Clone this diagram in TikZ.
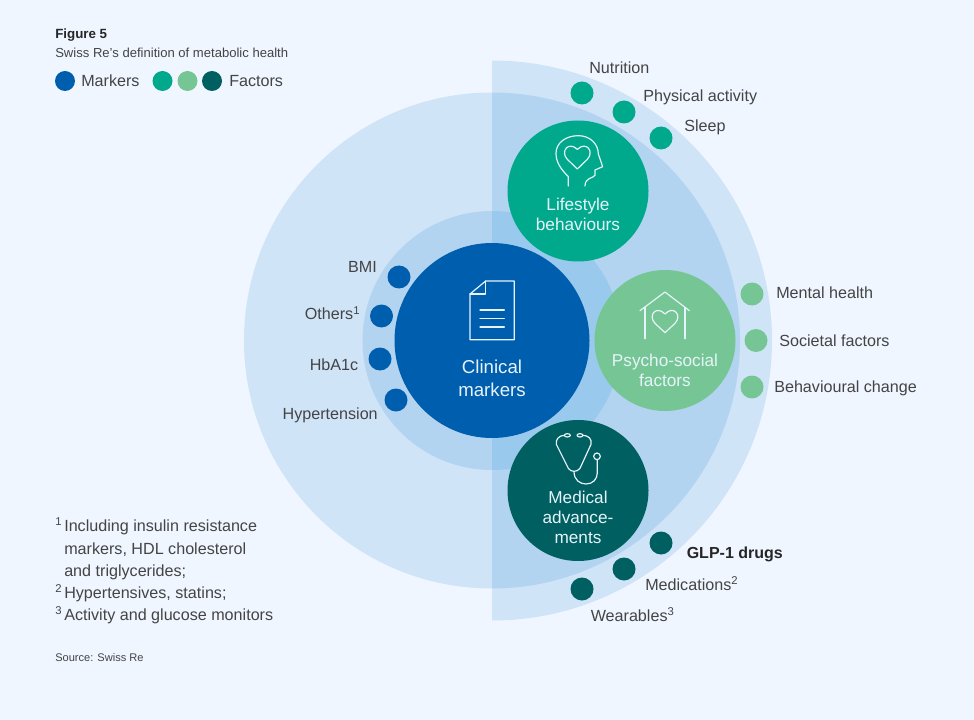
\documentclass[tikz,border=0pt]{standalone}
\usepackage{fontspec}
\setmainfont{Liberation Sans}
\definecolor{pagebg}{HTML}{EFF6FF}
\definecolor{ringA}{HTML}{D0E4F8}
\definecolor{ringB}{HTML}{B3D4F0}
\definecolor{ringC}{HTML}{99C9EC}
\definecolor{markerblue}{HTML}{005EAE}
\definecolor{lifegreen}{HTML}{00A98B}
\definecolor{psychogreen}{HTML}{76C695}
\definecolor{meddark}{HTML}{005F60}
\definecolor{txtgrey}{HTML}{444444}
\definecolor{lightwhite}{HTML}{E6F3FA}
\tikzset{
  bigcirc/.style={circle, inner sep=0pt, minimum size=105.75pt},
  intext/.style={inner sep=0pt, text=lightwhite, align=center, font=\fontsize{12.9}{15}\selectfont},
  dotnode/.style={circle, inner sep=0pt, minimum size=17.25pt},
  keynode/.style={circle, inner sep=0pt, minimum size=15pt},
  lbl/.style={inner sep=0pt, text=txtgrey, font=\fontsize{12.1}{15}\selectfont},
  fnote/.style={inner sep=0pt, anchor=base west, text=txtgrey, font=\fontsize{12.1}{15}\selectfont},
  small/.style={inner sep=0pt, anchor=base west, text=txtgrey, font=\fontsize{8.3}{11}\selectfont},
  icon/.style={draw=lightwhite, line width=.9pt, line join=round, line cap=round}
}
\newcommand{\fnmark}[1]{\makebox[6.75pt][l]{\textsuperscript{#1}}}
\begin{document}
\begin{tikzpicture}[x=.75pt, y=-.75pt]
    \useasboundingbox (0,0) rectangle (974,720);
    \fill[pagebg] (0,0) rectangle (974,720);
    % rings
    \begin{scope}
      \clip (492,0) rectangle (974,720);
      \fill[ringA] (492,340.5) circle (280);
    \end{scope}
    \fill[ringA] (492,340.5) circle (248);
    \begin{scope}
      \clip (492,0) rectangle (974,720);
      \fill[ringB] (492,340.5) circle (248);
    \end{scope}
    \fill[ringB] (492,340.5) circle (129.5);
    \begin{scope}
      \clip (492,0) rectangle (974,720);
      \fill[ringC] (492,340.5) circle (129.5);
    \end{scope}
    % place nodes
    \node [bigcirc, minimum size=146.25pt, fill=markerblue] (clinical) at (492,340.5) {};
    \node [bigcirc, fill=lifegreen] (lifestyle) at (578,191) {};
    \node [bigcirc, fill=psychogreen] (psycho) at (665,340.5) {};
    \node [bigcirc, fill=meddark] (medical) at (578,490.5) {};
    \node [intext, font=\fontsize{14}{17.25}\selectfont] (clinicalText) at (492,378) {Clinical\\markers};
    \node [intext] (lifestyleText) at (578,214.5) {Lifestyle\\behaviours};
    \node [intext] (psychoText) at (665,370.5) {Psycho-social\\factors};
    \node [intext] (medicalText) at (578,517) {Medical\\advance-\\ments};
    % dots
    \node [dotnode, fill=lifegreen] (nutritionDot) at (582,93) {};
    \node [dotnode, fill=lifegreen] (activityDot) at (624,112) {};
    \node [dotnode, fill=lifegreen] (sleepDot) at (661,138) {};
    \node [dotnode, fill=psychogreen] (mentalDot) at (752,294) {};
    \node [dotnode, fill=psychogreen] (societalDot) at (756,340.5) {};
    \node [dotnode, fill=psychogreen] (changeDot) at (752,387) {};
    \node [dotnode, fill=meddark] (glpDot) at (661,543) {};
    \node [dotnode, fill=meddark] (medsDot) at (624,569) {};
    \node [dotnode, fill=meddark] (wearDot) at (582,589) {};
    \node [dotnode, fill=markerblue] (bmiDot) at (399,277) {};
    \node [dotnode, fill=markerblue] (othersDot) at (381.5,316) {};
    \node [dotnode, fill=markerblue] (hbaDot) at (380,359) {};
    \node [dotnode, fill=markerblue] (hyperDot) at (396,400) {};
    % labels
    \node [lbl, anchor=west] (nutrition) at (589,68) {Nutrition};
    \node [lbl, anchor=west] (activity) at (643,97) {Physical activity};
    \node [lbl, anchor=west] (sleep) at (684,127.5) {Sleep};
    \node [lbl, anchor=west] (mental) at (776,293) {Mental health};
    \node [lbl, anchor=west] (societal) at (779,340.5) {Societal factors};
    \node [lbl, anchor=west] (change) at (774,388) {Behavioural change};
    \node [lbl, anchor=west, font=\fontsize{12}{15}\bfseries, text=black!85] (glp) at (686.5,554.5) {GLP-1 drugs};
    \node [lbl, anchor=base west] (meds) at (645,590) {Medications\textsuperscript{2}};
    \node [lbl, anchor=base west] (wear) at (590.5,621) {Wearables\textsuperscript{3}};
    \node [lbl, anchor=east] (bmi) at (377,267) {BMI};
    \node [lbl, anchor=base east] (others) at (360.5,320) {Others\textsuperscript{1}};
    \node [lbl, anchor=east] (hba) at (358.5,364.5) {HbA1c};
    \node [lbl, anchor=east] (hyper) at (378,415.5) {Hypertension};
    % legend and notes
    \node [inner sep=0pt, anchor=base west, text=black!85, font=\fontsize{10}{12}\bfseries] (figno) at (55,39) {Figure 5};
    \node [small, font=\fontsize{9.8}{11}\selectfont] (figtitle) at (55,58) {Swiss Re’s definition of metabolic health};
    \node [keynode, fill=markerblue] (keyBlue) at (65,81) {};
    \node [lbl, anchor=west] (keyMarkers) at (81,81) {Markers};
    \node [keynode, fill=lifegreen] (keyLife) at (162.5,81) {};
    \node [keynode, fill=psychogreen] (keyPsycho) at (187.5,81) {};
    \node [keynode, fill=meddark] (keyMed) at (212,81) {};
    \node [lbl, anchor=west] (keyFactors) at (229,81) {Factors};
    \node [fnote] (noteA) at (55,531) {\fnmark{1}Including insulin resistance};
    \node [fnote] (noteB) at (64,554) {markers, HDL cholesterol};
    \node [fnote] (noteC) at (64,576) {and triglycerides;};
    \node [fnote] (noteD) at (55,598) {\fnmark{2}Hypertensives, statins;};
    \node [fnote] (noteE) at (55,620) {\fnmark{3}Activity and glucose monitors};
    \node [small] (source) at (55,661) {Source: Swiss Re};
    % head icon
    \begin{scope}[shift={(480,50)}, x=.25pt, y=-.25pt]
      \draw [icon] (265,408) -- (265,380) .. controls (240,355) and (228,335) .. (228,310) .. controls (228,278) and (258,257) .. (295,257) .. controls (330,257) and (355,282) .. (355,312) -- (368,350) -- (345,360) -- (345,376) .. controls (340,385) and (315,382) .. (315,408);
      \draw [icon] (292,357) -- (262,328) .. controls (240,305) and (265,272) .. (292,298) .. controls (319,272) and (344,305) .. (322,328) -- cycle;
    \end{scope}
    % document icon
    \begin{scope}[shift={(400,240)}, x=.25pt, y=-.25pt]
      \draw [icon] (210,162) -- (257,123) -- (343,123) -- (343,299) -- (210,299) -- cycle;
      \draw [icon] (210,162) -- (257,162) -- (257,123);
      \draw [icon] (240,210) -- (313,210);
      \draw [icon] (240,236) -- (313,236);
      \draw [icon] (240,261) -- (313,261);
    % house icon
      \draw [icon] (720,212) -- (795,156) -- (868,212);
      \draw [icon] (735,202) -- (735,296);
      \draw [icon] (855,202) -- (855,296);
      \draw [icon] (795,278) -- (765,250) .. controls (742,225) and (770,195) .. (795,222) .. controls (820,195) and (848,225) .. (825,250) -- cycle;
    \end{scope}
    % stethoscope icon
    \begin{scope}[shift={(480,410)}, x=.25pt, y=-.25pt]
      \draw [icon] (262,76) ellipse (9 and 5);
      \draw [icon] (300,76) ellipse (9 and 5);
      \draw [icon] (253,76) .. controls (238,76) and (226,88) .. (229,103) -- (265,175) .. controls (272,187) and (292,187) .. (300,175) -- (333,103) .. controls (337,88) and (325,76) .. (309,76);
      \draw [icon] (282,185) .. controls (282,210) and (300,222) .. (318,222) .. controls (338,222) and (352,208) .. (352,188) -- (352,150);
      \draw [icon] (351,139) circle (10);
    \end{scope}
  \end{tikzpicture}
\end{document}
